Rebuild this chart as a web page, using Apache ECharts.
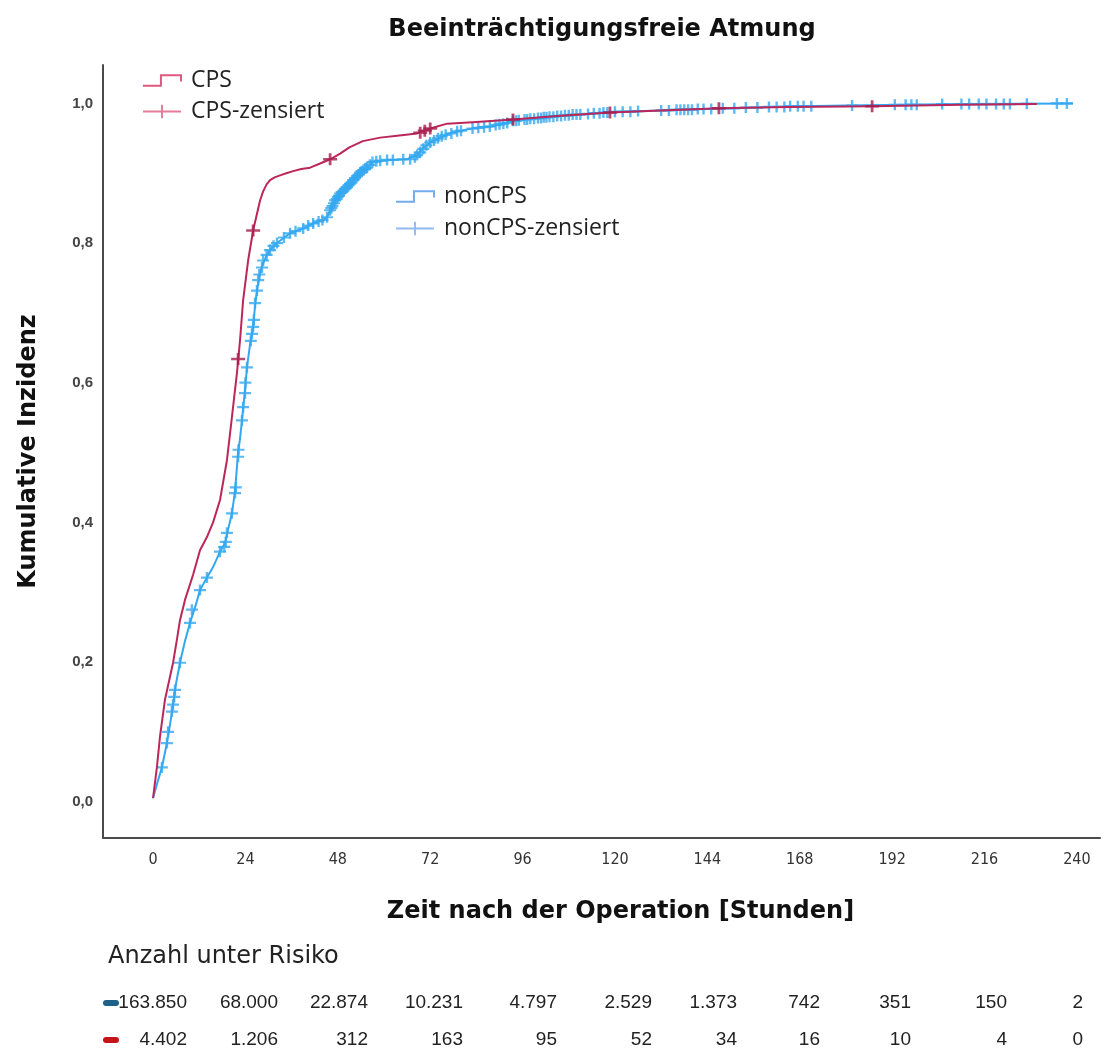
<!DOCTYPE html>
<html>
<head>
<meta charset="utf-8">
<title>Beeinträchtigungsfreie Atmung</title>
<script src="https://cdn.jsdelivr.net/npm/echarts@6/dist/echarts.min.js"></script>
<style>
  html, body { margin: 0; padding: 0; background: #fff; }
  #chart { width: 1120px; height: 1055px; }
</style>
</head>
<body>
<div id="chart"></div>
<script>
// Zeitachse (Stunden) und Skalenwerte
var timeTicks = [0, 24, 48, 72, 96, 120, 144, 168, 192, 216, 240]
var incTicks = [0, 0.2, 0.4, 0.6, 0.8, 1.0]

// CPS: kumulative Inzidenz
var cpsTime = [0, 1, 1.8, 3.1, 4.4, 5.2, 6.2, 7, 8.3, 10.4, 12.2, 14, 15.6, 17.4, 19.2, 20.5, 21.8, 22.6, 23.4, 24.7, 26, 27, 27.8, 28.6, 29.5, 30.4, 31.6, 33, 34.6, 36.4, 38.5, 40.8, 43.4, 46, 48.6, 51, 54.5, 59, 64, 68.6, 72, 76.4, 83, 93.5, 105, 118.7, 132, 147, 165, 187, 210, 229.6]
var cpsInc = [0.005, 0.049, 0.093, 0.146, 0.179, 0.199, 0.232, 0.26, 0.289, 0.325, 0.36, 0.379, 0.40, 0.432, 0.489, 0.551, 0.614, 0.661, 0.718, 0.775, 0.818, 0.842, 0.861, 0.874, 0.884, 0.89, 0.894, 0.897, 0.9, 0.903, 0.906, 0.908, 0.914, 0.92, 0.928, 0.937, 0.946, 0.951, 0.954, 0.957, 0.964, 0.971, 0.973, 0.977, 0.982, 0.987, 0.990, 0.993, 0.995, 0.996, 0.998, 0.999]
var cpsCensored = [[22.1, 0.634], [26, 0.818], [46, 0.92], [69.4, 0.958], [70.6, 0.961], [72, 0.964], [93.5, 0.977], [118.7, 0.987], [147, 0.993], [186.8, 0.996]]

// nonCPS: kumulative Inzidenz
var nonCpsTime = [0, 1, 2.3, 3.6, 4.4, 5.2, 6, 7, 8.3, 9.6, 11, 12.2, 14, 15.6, 17.4, 18.7, 19.5, 20.5, 21.3, 22.1, 22.6, 23.1, 23.9, 24.4, 25.2, 26, 26.5, 27, 27.8, 28.6, 29.5, 30.4, 32.2, 35.6, 39, 41.6, 44, 45.2, 46, 47.3, 48.6, 50.4, 52, 53.8, 55.6, 57, 59, 62, 66, 68.6, 70, 72, 74.5, 77, 80, 84, 88, 93.5, 100, 106, 113, 120, 132, 144, 156, 168, 180, 195, 210, 225, 239]
var nonCpsInc = [0.005, 0.025, 0.049, 0.084, 0.11, 0.139, 0.17, 0.199, 0.23, 0.256, 0.28, 0.303, 0.321, 0.336, 0.358, 0.37, 0.39, 0.413, 0.445, 0.50, 0.52, 0.546, 0.59, 0.622, 0.655, 0.68, 0.71, 0.732, 0.757, 0.771, 0.782, 0.79, 0.80, 0.814, 0.821, 0.828, 0.833, 0.837, 0.847, 0.861, 0.871, 0.88, 0.89, 0.901, 0.908, 0.916, 0.918, 0.919, 0.92, 0.926, 0.935, 0.944, 0.951, 0.957, 0.961, 0.965, 0.967, 0.975, 0.979, 0.982, 0.985, 0.988, 0.99, 0.992, 0.994, 0.996, 0.997, 0.998, 0.999, 0.9995, 1.0]
var nonCpsCensored = [
  [2.3, 0.049], [3.6, 0.084], [3.9, 0.10], [4.9, 0.129], [5.2, 0.139], [5.5, 0.15], [5.7, 0.16], [7, 0.199],
  [9.6, 0.256], [10.1, 0.275], [12.2, 0.303], [14, 0.321], [17.4, 0.358], [18.5, 0.365], [18.9, 0.372], [19.2, 0.385],
  [20.5, 0.413], [21.3, 0.442], [21.5, 0.45], [22.1, 0.494], [22.2, 0.504], [23.1, 0.546], [23.4, 0.565], [23.9, 0.585],
  [24, 0.60], [24.4, 0.622], [25.4, 0.66], [25.7, 0.67], [26, 0.68], [26.2, 0.69], [26.5, 0.714], [27, 0.732], [27.3, 0.747],
  [27.6, 0.755], [28.3, 0.765], [28.6, 0.775], [29.5, 0.783], [30.4, 0.79], [31.3, 0.796], [32.2, 0.80], [34, 0.808],
  [35.6, 0.814], [37, 0.817], [39, 0.821], [40.3, 0.825], [41.6, 0.828], [43, 0.831], [44, 0.833], [45.2, 0.837],
  [46, 0.847], [46.3, 0.85], [46.6, 0.853], [47, 0.857], [47.3, 0.861], [47.7, 0.863], [48, 0.866], [48.3, 0.868],
  [48.6, 0.871], [49, 0.873], [49.5, 0.875], [50, 0.878], [50.4, 0.88], [50.8, 0.883], [51.2, 0.885], [51.6, 0.887],
  [52, 0.89], [52.5, 0.893], [53, 0.896], [53.4, 0.898], [53.8, 0.901], [54.2, 0.903], [54.7, 0.905], [55.2, 0.907],
  [55.6, 0.908], [56.3, 0.912], [57, 0.916], [58, 0.917], [59, 0.918], [60.8, 0.919], [62.3, 0.919], [65, 0.92],
  [66.8, 0.92], [68, 0.923], [68.6, 0.926], [69.4, 0.93], [70.2, 0.935], [71, 0.94], [72, 0.944], [73, 0.947],
  [74, 0.95], [75, 0.953], [76, 0.955], [77.5, 0.957], [79, 0.96], [80, 0.961], [83, 0.964], [84.5, 0.965],
  [86, 0.966], [87.5, 0.967], [89, 0.969], [90, 0.97], [91, 0.971], [92, 0.972], [93.5, 0.975], [94.3, 0.975],
  [95, 0.976], [96.5, 0.977], [97.2, 0.977], [98, 0.978], [99, 0.978], [100, 0.979], [100.8, 0.979], [101.5, 0.98],
  [102.2, 0.98], [103, 0.981], [104, 0.981], [105, 0.982], [106, 0.982], [107, 0.983], [108, 0.983], [109, 0.984],
  [110, 0.984], [111, 0.984], [113, 0.985], [114.5, 0.986], [116, 0.986], [117, 0.987], [118, 0.987], [120, 0.988],
  [122, 0.988], [124, 0.988], [126, 0.989], [132, 0.99], [134, 0.99], [136, 0.991], [137, 0.991], [138, 0.991],
  [139, 0.991], [140, 0.991], [141.5, 0.992], [143, 0.992], [145, 0.992], [148, 0.993], [151, 0.993], [154, 0.994],
  [157, 0.994], [160, 0.995], [162, 0.995], [164, 0.995], [165.5, 0.996], [167.5, 0.996], [169, 0.996], [171, 0.996],
  [181.6, 0.997], [192.7, 0.998], [195.5, 0.998], [197, 0.998], [198.4, 0.998], [205, 0.999], [210, 0.999], [212, 0.999],
  [214.5, 0.999], [216.5, 0.999], [219, 0.999], [221, 0.999], [222.6, 0.999], [227, 0.9995], [234.8, 1.0], [237.4, 1.0]
]

// Anzahl unter Risiko
var riskNonCps = [163850, 68000, 22874, 10231, 4797, 2529, 1373, 742, 351, 150, 2]
var riskCps = [4402, 1206, 312, 163, 95, 52, 34, 16, 10, 4, 0]

// Layout der Risikotabelle (rechte Kante je Spalte, px)
var riskColRight = [187, 278, 368, 463, 557, 652, 737, 820, 911, 1007, 1083]

var RED = '#bb275b'
var RED_MARK = '#a51e4e'
var RED_LEGEND = '#dc5a80'
var BLUE = '#33a8f0'
var BLUE_LEGEND = '#74aaee'

var crossSymbol = 'path://M0,4 H10 V6 H0 Z M4,0 H6 V10 H4 Z'
var crossIcon = 'path://M0,6 H40 V8 H0 Z M19,0 H21 V14 H19 Z'
var stepIcon = 'path://M0,12 L17,12 L17,2 L36,2 L36,8'

function zip(xs, ys) {
  return xs.map(function(x, i) { return [x, ys[i]] })
}

function fmtThousands(n) {
  return String(n).replace(/\B(?=(\d{3})+(?!\d))/g, '.')
}

var chart = echarts.init(document.getElementById('chart'), null, { renderer: 'canvas' })

var graphics = [{
  type: 'text',
  x: 108,
  y: 957,
  style: {
    text: 'Anzahl unter Risiko',
    font: '24px "DejaVu Sans", sans-serif',
    fill: '#222',
    verticalAlign: 'middle'
  }
}, {
  type: 'rect',
  shape: { x: 103, y: 1000, width: 16, height: 6, r: 3 },
  style: { fill: '#1f6089' }
}, {
  type: 'rect',
  shape: { x: 103, y: 1037, width: 16, height: 6, r: 3 },
  style: { fill: '#c8121a' }
}]

function riskRow(values, y) {
  values.forEach(function(v, i) {
    graphics.push({
      type: 'text',
      x: riskColRight[i],
      y: y,
      style: {
        text: fmtThousands(v),
        font: '19px "Liberation Sans", Arial, sans-serif',
        fill: '#222',
        align: 'right',
        verticalAlign: 'middle'
      }
    })
  })
}
riskRow(riskNonCps, 1003)
riskRow(riskCps, 1040)

var legendText = { fontFamily: '"Open Sans", sans-serif', fontSize: 23, color: '#222', padding: [0, 0, 0, 5] }

chart.setOption({
  backgroundColor: '#fff',
  animation: false,
  title: {
    text: 'Beeinträchtigungsfreie Atmung',
    left: 597,
    textAlign: 'center',
    top: 13,
    textStyle: {
      fontFamily: '"DejaVu Sans", sans-serif',
      fontWeight: 'bold',
      fontSize: 24,
      color: '#111'
    }
  },
  legend: [{
    orient: 'vertical',
    left: 137,
    top: 64,
    itemWidth: 38,
    itemHeight: 14,
    itemGap: 8,
    selectedMode: false,
    textStyle: legendText,
    data: [
      { name: 'CPS', icon: stepIcon, itemStyle: { color: 'rgba(0,0,0,0)', borderColor: RED_LEGEND, borderWidth: 2 } },
      { name: 'CPS-zensiert', icon: crossIcon, itemStyle: { color: RED_LEGEND } }
    ]
  }, {
    orient: 'vertical',
    left: 390,
    top: 180,
    itemWidth: 38,
    itemHeight: 14,
    itemGap: 9,
    selectedMode: false,
    textStyle: legendText,
    data: [
      { name: 'nonCPS', icon: stepIcon, itemStyle: { color: 'rgba(0,0,0,0)', borderColor: BLUE_LEGEND, borderWidth: 2 } },
      { name: 'nonCPS-zensiert', icon: crossIcon, itemStyle: { color: BLUE_LEGEND } }
    ]
  }],
  grid: {
    left: 103,
    top: 65,
    right: 20,
    bottom: 217,
    containLabel: false
  },
  xAxis: {
    type: 'value',
    min: -13,
    max: 246,
    name: 'Zeit nach der Operation [Stunden]',
    nameLocation: 'middle',
    nameGap: 62,
    nameTextStyle: {
      fontFamily: '"DejaVu Sans", sans-serif',
      fontWeight: 'bold',
      fontSize: 24,
      color: '#111',
      padding: [0, 0, 0, 38]
    },
    axisLine: { onZero: false, lineStyle: { color: '#4a4a4a', width: 2 } },
    axisTick: { show: false },
    splitLine: { show: false },
    axisLabel: {
      customValues: timeTicks,
      margin: 14,
      fontFamily: '"Liberation Sans Narrow", "DejaVu Sans Condensed", sans-serif',
      fontSize: 16,
      color: '#333'
    }
  },
  yAxis: {
    type: 'value',
    min: -0.052,
    max: 1.055,
    name: 'Kumulative Inzidenz',
    nameLocation: 'middle',
    nameGap: 62,
    nameTextStyle: {
      fontFamily: '"DejaVu Sans", sans-serif',
      fontWeight: 'bold',
      fontSize: 24,
      color: '#111'
    },
    axisLine: { show: true, onZero: false, lineStyle: { color: '#4a4a4a', width: 2 } },
    axisTick: { show: false },
    splitLine: { show: false },
    axisLabel: {
      customValues: incTicks,
      margin: 10,
      fontFamily: '"Liberation Sans", Arial, sans-serif',
      fontSize: 15,
      fontWeight: 'bold',
      color: '#444',
      formatter: function(v) { return v.toFixed(1).replace('.', ',') }
    }
  },
  series: [{
    name: 'nonCPS',
    type: 'line',
    data: zip(nonCpsTime, nonCpsInc),
    showSymbol: false,
    symbol: 'none',
    color: BLUE,
    lineStyle: { width: 2, color: BLUE, join: 'round' },
    z: 2
  }, {
    name: 'nonCPS-zensiert',
    type: 'scatter',
    data: nonCpsCensored,
    symbol: crossSymbol,
    symbolSize: [12, 11],
    itemStyle: { color: BLUE },
    z: 3
  }, {
    name: 'CPS',
    type: 'line',
    data: zip(cpsTime, cpsInc),
    showSymbol: false,
    symbol: 'none',
    color: RED,
    lineStyle: { width: 2, color: RED, join: 'round' },
    z: 4
  }, {
    name: 'CPS-zensiert',
    type: 'scatter',
    data: cpsCensored,
    symbol: crossSymbol,
    symbolSize: [14, 12],
    itemStyle: { color: RED_MARK },
    z: 5
  }],
  graphic: graphics
})
</script>
</body>
</html>
